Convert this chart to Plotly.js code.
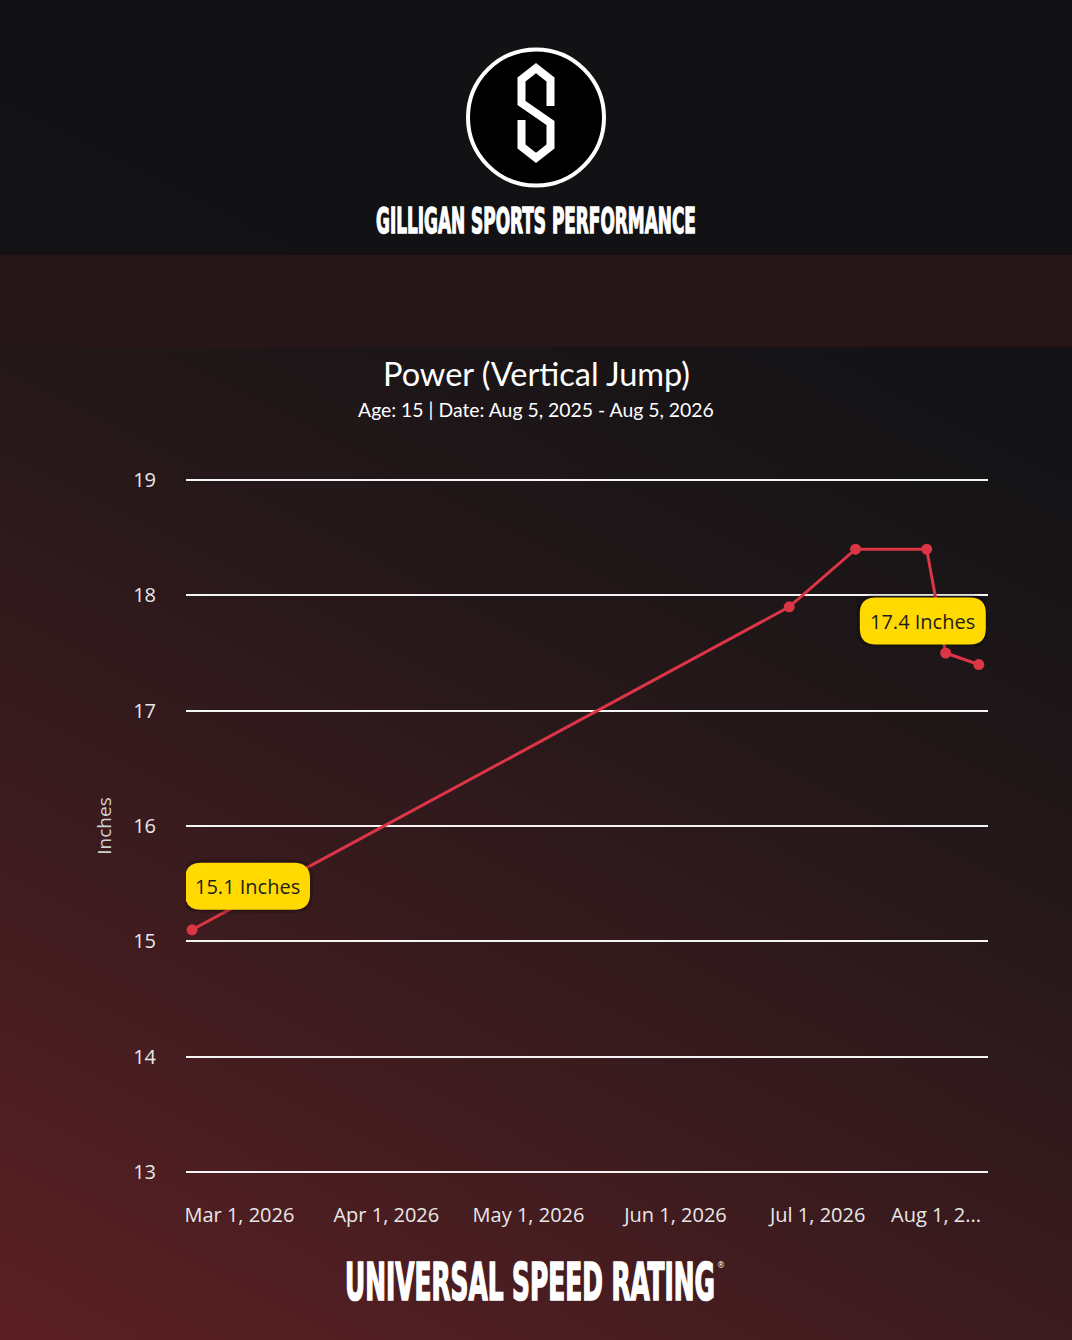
<!DOCTYPE html>
<html>
<head>
<meta charset="utf-8">
<script src="https://cdn.plot.ly/plotly-3.0.1.min.js"></script>
<style>
  html, body { margin: 0; padding: 0; }
  body {
    width: 1072px; height: 1340px; overflow: hidden;
    background: linear-gradient(27deg, #5c2024 0%, #3a1b1e 30%, #221719 55%, #131315 76%, #121214 100%);
  }
  #chart { width: 1072px; height: 1340px; }
</style>
</head>
<body>
<div id="chart"></div>
<script>
// ---------- data ----------
const testDates = ['2026-02-19', '2026-06-25', '2026-07-09', '2026-07-24', '2026-07-28', '2026-08-04'];
const jumpInches = [15.1, 17.9, 18.4, 18.4, 17.5, 17.4];
const yTickValues = [13, 14, 15, 16, 17, 18, 19];
const xTickValues = ['2026-03-01', '2026-04-01', '2026-05-01', '2026-06-01', '2026-07-01', '2026-08-01'];
const xTickLabels = ['Mar 1, 2026', 'Apr 1, 2026', 'May 1, 2026', 'Jun 1, 2026', 'Jul 1, 2026',
                     'Aug 1, 2...' + '\u00a0'.repeat(11)];
const labelledPoints = [0, 5];
const chartTitle = 'Power (Vertical Jump)';
const chartSubtitle = 'Age: 15 | Date: Aug 5, 2025 - Aug 5, 2026';
const brandTop = 'GILLIGAN SPORTS PERFORMANCE';
const brandBottom = 'UNIVERSAL SPEED RATING';

// ---------- layout geometry ----------
const W = 1072, H = 1340;
const ML = 186, MR = 84, MT = 477, MB = 165;
const PW = W - ML - MR, PH = H - MT - MB;
const px2x = p => (p - ML) / PW;
const px2y = p => 1 - (p - MT) / PH;

function roundRect(x0, y0, x1, y1, r) {
  // pixel offsets, y positive up (y0 bottom, y1 top)
  return `M${x0 + r},${y0} L${x1 - r},${y0} Q${x1},${y0} ${x1},${y0 + r} L${x1},${y1 - r} Q${x1},${y1} ${x1 - r},${y1} ` +
         `L${x0 + r},${y1} Q${x0},${y1} ${x0},${y1 - r} L${x0},${y0 + r} Q${x0},${y0} ${x0 + r},${y0} Z`;
}

const trace = {
  type: 'scatter', mode: 'lines+markers',
  x: testDates, y: jumpInches,
  line: { color: '#dc3545', width: 3 },
  marker: { color: '#dc3545', size: 11 },
  hoverinfo: 'skip'
};

const shapes = [
  // header band
  { type: 'rect', xref: 'paper', yref: 'paper', layer: 'below',
    x0: px2x(0), x1: px2x(W), y0: px2y(0), y1: px2y(255),
    fillcolor: 'rgba(18,18,20,0.93)', line: { width: 0 } },
  // second band
  { type: 'rect', xref: 'paper', yref: 'paper', layer: 'below',
    x0: px2x(0), x1: px2x(W), y0: px2y(255), y1: px2y(347),
    fillcolor: 'rgba(39,23,25,0.97)', line: { width: 0 } },
  // logo circle
  { type: 'circle', xref: 'paper', yref: 'paper', xsizemode: 'pixel', ysizemode: 'pixel',
    xanchor: px2x(536), yanchor: px2y(117.5), x0: -68, x1: 68, y0: -68, y1: 68,
    fillcolor: '#000000', line: { color: '#ffffff', width: 4 } },
  // logo S
  { type: 'path', xref: 'paper', yref: 'paper', xsizemode: 'pixel', ysizemode: 'pixel',
    xanchor: px2x(536), yanchor: px2y(113),
    path: 'M14.5,7 L14.5,33.5 L0,45 L-14.5,33.5 L-14.5,10 L14.5,-10 L14.5,-33.5 L0,-45 L-14.5,-33.5 L-14.5,-7',
    line: { color: '#ffffff', width: 8 } }
];

const annotations = [
  { xref: 'paper', yref: 'paper', x: px2x(536), y: px2y(373), xanchor: 'center', yanchor: 'middle',
    showarrow: false, text: chartTitle, font: { family: 'Lato', size: 32.5, color: '#ffffff' } },
  { xref: 'paper', yref: 'paper', x: px2x(536), y: px2y(409), xanchor: 'center', yanchor: 'middle',
    showarrow: false, text: chartSubtitle, font: { family: 'Lato', size: 19.4, color: '#ffffff' } },
  { xref: 'paper', yref: 'paper', x: px2x(536), y: px2y(220), xanchor: 'center', yanchor: 'middle',
    showarrow: false, text: brandTop, font: { family: 'DejaVu Sans Condensed', size: 26, weight: 'bold', color: '#ffffff' } },
  { xref: 'paper', yref: 'paper', x: px2x(530), y: px2y(1281), xanchor: 'center', yanchor: 'middle',
    showarrow: false, text: brandBottom, font: { family: 'DejaVu Sans Condensed', size: 30, weight: 'bold', color: '#ffffff' } },
  { xref: 'paper', yref: 'paper', x: px2x(721), y: px2y(1265), xanchor: 'center', yanchor: 'middle',
    showarrow: false, text: '®', font: { family: 'DejaVu Sans', size: 8, color: '#ffffff' } }
];

// value labels (pill boxes anchored to their data points)
labelledPoints.forEach((i, k) => {
  const left = k === 0;
  const bx0 = left ? -7 : -119, bx1 = left ? 118 : 7;
  const by0 = 20, by1 = 67;
  shapes.push({ type: 'path', xref: 'x', yref: 'y', xsizemode: 'pixel', ysizemode: 'pixel',
    xanchor: testDates[i], yanchor: jumpInches[i],
    path: roundRect(bx0 - 3, by0 - 3, bx1 + 3, by1 + 3, 18),
    fillcolor: 'rgba(0,0,0,0.18)', line: { width: 0 } });
  shapes.push({ type: 'path', xref: 'x', yref: 'y', xsizemode: 'pixel', ysizemode: 'pixel',
    xanchor: testDates[i], yanchor: jumpInches[i],
    path: roundRect(bx0, by0, bx1, by1, 16),
    fillcolor: '#ffd900', line: { width: 0 } });
  annotations.push({ xref: 'x', yref: 'y', x: testDates[i], y: jumpInches[i],
    xshift: (bx0 + bx1) / 2, yshift: (by0 + by1) / 2, xanchor: 'center', yanchor: 'middle',
    showarrow: false, text: jumpInches[i].toFixed(1) + ' Inches',
    font: { family: 'Open Sans', size: 20, color: '#1e1e1e' } });
});

const layout = {
  width: W, height: H,
  margin: { l: ML, r: MR, t: MT, b: MB, pad: 0 },
  paper_bgcolor: 'rgba(0,0,0,0)', plot_bgcolor: 'rgba(0,0,0,0)',
  showlegend: false,
  xaxis: {
    type: 'date', range: ['2026-02-17 17:30', '2026-08-05 22:30'],
    tickmode: 'array', tickvals: xTickValues, ticktext: xTickLabels,
    showgrid: false, zeroline: false, showline: false, ticks: '',
    ticklabelstandoff: 26,
    tickfont: { family: 'Open Sans', size: 20, color: '#e8e8e8' }
  },
  yaxis: {
    range: [12.974, 19.026], tickmode: 'array', tickvals: yTickValues,
    showgrid: true, gridcolor: '#f4f4f4', gridwidth: 2,
    zeroline: false, showline: false, ticks: '',
    ticklabelstandoff: 29,
    tickfont: { family: 'Open Sans', size: 20, color: '#e8e8e8' },
    title: { text: 'Inches', standoff: 16, font: { family: 'Open Sans', size: 19, color: '#d0d0d0' } }
  },
  shapes: shapes,
  annotations: annotations
};

function fitText(index, x0, capTop, width, capH) {
  const t = document.querySelector(`.annotation[data-index="${index}"] text.annotation-text`);
  if (!t) return;
  const size = parseFloat(t.style.fontSize) || 26;
  const b = t.getBBox();
  const baseline = b.y + b.height * 0.797;
  const srcCap = baseline - 0.729 * size;
  const m = t.parentNode.getScreenCTM();
  const sx = width / b.width, sy = capH / (0.729 * size);
  t.setAttribute('transform',
    `translate(${x0 - m.e},${capTop - m.f}) scale(${sx},${sy}) translate(${-b.x},${-srcCap})`);
  t.style.stroke = '#ffffff';
  t.style.strokeWidth = '1px';
}

Plotly.newPlot('chart', [trace], layout, { displayModeBar: false, staticPlot: true }).then(() => {
  fitText(2, 376, 207, 320, 26);
  fitText(3, 345, 1262, 370, 38);
});
</script>
</body>
</html>
